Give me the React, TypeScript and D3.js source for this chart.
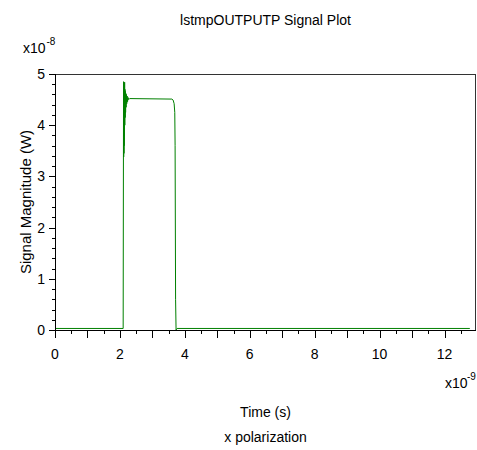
import React from "react";
import * as d3 from "d3";

// Time in ns (x1e-9 s), signal in x1e-8 W
const timeNs: number[] = [
  0, 2.1, 2.108, 2.112, 2.116, 2.12, 2.124, 2.128, 2.132, 2.136, 2.14, 2.145,
  2.15, 2.156, 2.162, 2.168, 2.175, 2.182, 2.19, 2.2, 2.21, 2.222, 2.235,
  2.25, 2.27, 2.3, 3.6, 3.64, 3.67, 3.69, 3.7, 3.715, 3.73, 3.76, 12.78,
];
const signal: number[] = [
  0.03, 0.03, 3.4, 4.85, 3.38, 4.82, 3.45, 4.8, 3.6, 4.78, 3.8, 4.84,
  4.0, 4.7, 4.15, 4.66, 4.25, 4.62, 4.35, 4.6, 4.42, 4.57, 4.46,
  4.54, 4.5, 4.52, 4.51, 4.49, 4.42, 4.25, 3.6, 0.6, 0.0, 0.03, 0.03,
];

const xMajorTicks: number[] = [0, 1, 2, 3, 4, 5, 6, 7, 8, 9, 10, 11, 12];
const xLabelTicks: number[] = [0, 2, 4, 6, 8, 10, 12];
const yLabelTicks: number[] = [0, 1, 2, 3, 4, 5];

const title = "lstmpOUTPUTP Signal Plot";
const xTitle = "Time (s)";
const yTitle = "Signal Magnitude (W)";
const subTitle = "x polarization";

const W = 477;
const H = 450;
const left = 55;
const right = 476;
const top = 74;
const bottom = 330;
const FONT = "'Liberation Sans', Arial, sans-serif";

export default function App() {
  const x = d3.scaleLinear().domain([0, 12.97]).range([left, right]);
  const y = d3.scaleLinear().domain([0, 5]).range([bottom, top]);
  const pts: [number, number][] = timeNs.map((t, i) => [t, signal[i]]);
  const line = d3
    .line<[number, number]>()
    .x((d) => x(d[0]))
    .y((d) => y(d[1]));

  const xMinor = d3.range(0.5, 12.97, 1);
  const yMinor = d3.range(0, 5.001, 0.2).filter((v) => Math.abs(v - Math.round(v)) > 0.01);

  return (
    <svg
      width={W}
      height={H}
      style={{ position: "absolute", left: 0, top: 0, background: "#fff" }}
      fontFamily={FONT}
    >
      <rect x={0} y={0} width={W} height={H} fill="#fff" />
      <text x={(left + right) / 2} y={25} textAnchor="middle" fontSize={14} fill="#000">
        {title}
      </text>
      {/* exponent y */}
      <text x={23} y={53} fontSize={14} fill="#000">x10</text>
      <text x={46.5} y={45} fontSize={10} fill="#000">-8</text>

      {/* frame */}
      <line x1={left} x2={right} y1={top + 0.5} y2={top + 0.5} stroke="#333" />
      <line x1={right - 0.5} x2={right - 0.5} y1={top} y2={bottom} stroke="#333" />

      {/* data */}
      <path d={line(pts) || ""} fill="none" stroke="#008000" strokeWidth={1} />

      {/* axes */}
      <line x1={left} x2={right} y1={bottom + 0.5} y2={bottom + 0.5} stroke="#000" />
      <line x1={left + 0.5} x2={left + 0.5} y1={top} y2={bottom + 1} stroke="#000" />

      {xMajorTicks.map((t) => (
        <line key={"xm" + t} x1={Math.round(x(t)) + 0.5} x2={Math.round(x(t)) + 0.5} y1={bottom} y2={bottom + 8} stroke="#000" />
      ))}
      {xMinor.map((t) => (
        <line key={"xn" + t} x1={Math.round(x(t)) + 0.5} x2={Math.round(x(t)) + 0.5} y1={bottom} y2={bottom + 4} stroke="#000" />
      ))}
      {xLabelTicks.map((t) => (
        <text key={"xl" + t} x={x(t)} y={359} textAnchor="middle" fontSize={14} fill="#000">
          {t}
        </text>
      ))}

      {yLabelTicks.map((t) => (
        <g key={"yl" + t}>
          <line x1={left - 6} x2={left} y1={Math.round(y(t)) + 0.5} y2={Math.round(y(t)) + 0.5} stroke="#000" />
          <text x={45} y={y(t)} dy="0.35em" textAnchor="end" fontSize={14} fill="#000">
            {t}
          </text>
        </g>
      ))}
      {yMinor.map((t, i) => (
        <line key={"yn" + i} x1={left - 3} x2={left} y1={Math.round(y(t)) + 0.5} y2={Math.round(y(t)) + 0.5} stroke="#000" />
      ))}

      {/* exponent x */}
      <text x={445} y={388} fontSize={14} fill="#000">x10</text>
      <text x={467} y={380} fontSize={10} fill="#000">-9</text>

      <text x={(left + right) / 2} y={417} textAnchor="middle" fontSize={14} fill="#000">
        {xTitle}
      </text>
      <text x={(left + right) / 2} y={442} textAnchor="middle" fontSize={14} fill="#000">
        {subTitle}
      </text>
      <text
        transform={`translate(31, ${(top + bottom) / 2}) rotate(-90)`}
        textAnchor="middle"
        fontSize={15}
        fill="#000"
      >
        {yTitle}
      </text>
    </svg>
  );
}
